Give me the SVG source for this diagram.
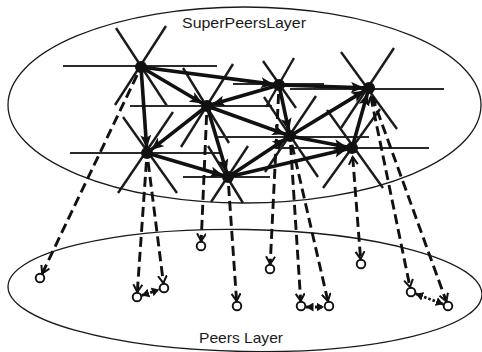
<svg xmlns="http://www.w3.org/2000/svg" width="482" height="352" viewBox="0 0 482 352">
<style>
.layer{fill:none;stroke:#1a1a1a;stroke-width:1.3}
.hz{stroke:#2a2a2a;stroke-width:2.2}
.sp{stroke:#1a1a1a;stroke-width:2.4}
.dot{fill:#111}
.edge{stroke:#111;stroke-width:3.6;fill:none;marker-end:url(#ah)}
.dash{stroke:#111;stroke-width:2.9;fill:none;stroke-dasharray:10 5;marker-end:url(#ch)}
.dots{stroke:#111;stroke-width:2.8;fill:none;stroke-dasharray:2.5 2;marker-end:url(#sm);marker-start:url(#sm)}
.peer{fill:#fff;stroke:#111;stroke-width:1.9}
.lbl{font-family:"Liberation Sans",Arial,sans-serif;font-size:15px;fill:#1a1a1a}
</style>
<defs>
<marker id="ah" markerUnits="userSpaceOnUse" markerWidth="15" markerHeight="11" refX="13" refY="5.5" orient="auto"><path d="M0,0 L13,5.5 L0,11 L3,5.5 z" fill="#111"/></marker>
<marker id="ch" markerUnits="userSpaceOnUse" markerWidth="11" markerHeight="11" refX="8" refY="5" orient="auto-start-reverse"><path d="M0.5,0.5 L8,5 L0.5,9.5" fill="none" stroke="#111" stroke-width="2"/></marker>
<marker id="sm" markerUnits="userSpaceOnUse" markerWidth="9" markerHeight="9" refX="7.5" refY="4.5" orient="auto-start-reverse"><path d="M0,0 L7.5,4.5 L0,9 z" fill="#111"/></marker>
</defs>
<rect width="482" height="352" fill="#fff"/>
<ellipse class="layer" cx="244.5" cy="105" rx="236.5" ry="98"/>
<ellipse class="layer" cx="245" cy="290.5" rx="237" ry="61" transform="rotate(1 245 290.5)"/>
<text class="lbl" x="182" y="28" textLength="124" lengthAdjust="spacingAndGlyphs">SuperPeersLayer</text>
<text class="lbl" x="199" y="343" textLength="84" lengthAdjust="spacingAndGlyphs">Peers Layer</text>

<g id="sp-A"><line class="hz" x1="63" y1="66" x2="217" y2="66"/><line class="sp" x1="116" y1="28" x2="167" y2="106"/><line class="sp" x1="166" y1="26" x2="115" y2="105"/><circle class="dot" cx="141" cy="67" r="6"/></g>
<g id="sp-B"><line class="hz" x1="130" y1="106" x2="272" y2="106"/><line class="sp" x1="183" y1="68" x2="229" y2="143"/><line class="sp" x1="233" y1="64" x2="181" y2="147"/><circle class="dot" cx="207" cy="106" r="6"/></g>
<g id="sp-C"><line class="hz" x1="233" y1="84" x2="324" y2="84"/><line class="sp" x1="263" y1="61" x2="296" y2="108"/><line class="sp" x1="294" y1="58" x2="266" y2="107"/><circle class="dot" cx="279" cy="85" r="6"/></g>
<g id="sp-D"><line class="hz" x1="290" y1="89" x2="444" y2="89"/><line class="sp" x1="341" y1="52" x2="397" y2="129"/><line class="sp" x1="394" y1="48" x2="341" y2="128"/><circle class="dot" cx="369" cy="88" r="6"/></g>
<g id="sp-E"><line class="hz" x1="70" y1="153" x2="220" y2="153"/><line class="sp" x1="123" y1="117" x2="177" y2="193"/><line class="sp" x1="173" y1="112" x2="118" y2="193"/><circle class="dot" cx="147" cy="153" r="6"/></g>
<g id="sp-F"><line class="hz" x1="218" y1="137" x2="369" y2="137"/><line class="sp" x1="264" y1="97" x2="318" y2="177"/><line class="sp" x1="316" y1="96" x2="265" y2="172"/><circle class="dot" cx="290" cy="136" r="6"/></g>
<g id="sp-G"><line class="hz" x1="183" y1="177" x2="270" y2="177"/><line class="sp" x1="208" y1="146" x2="243" y2="203"/><line class="sp" x1="248" y1="146" x2="211" y2="202"/><circle class="dot" cx="228" cy="177" r="6"/></g>
<g id="sp-H"><line class="hz" x1="276" y1="148" x2="429" y2="148"/><line class="sp" x1="327" y1="110" x2="383" y2="188"/><line class="sp" x1="380" y1="109" x2="323" y2="188"/><circle class="dot" cx="352" cy="148" r="6"/></g>

<g id="p1"><circle class="peer" cx="40" cy="278" r="4.3"/></g>
<g id="p2"><circle class="peer" cx="137" cy="297" r="4.3"/></g>
<g id="p3"><circle class="peer" cx="164" cy="288" r="4.3"/></g>
<g id="p4"><circle class="peer" cx="201" cy="246" r="4.3"/></g>
<g id="p5"><circle class="peer" cx="237" cy="306" r="4.3"/></g>
<g id="p6"><circle class="peer" cx="270" cy="269" r="4.3"/></g>
<g id="p7"><circle class="peer" cx="301" cy="306" r="4.3"/></g>
<g id="p8"><circle class="peer" cx="329" cy="306" r="4.3"/></g>
<g id="p9"><circle class="peer" cx="361" cy="264" r="4.3"/></g>
<g id="p10"><circle class="peer" cx="411" cy="292" r="4.3"/></g>
<g id="p11"><circle class="peer" cx="448" cy="306" r="4.3"/></g>

<g id="connectors">
<line class="edge" x1="141" y1="67" x2="202.7" y2="103.5"/>
<line class="edge" x1="141" y1="67" x2="274" y2="84.4"/>
<line class="edge" x1="279" y1="85" x2="364" y2="87.8"/>
<line class="edge" x1="141" y1="67" x2="146.7" y2="148"/>
<line class="edge" x1="279" y1="85" x2="211.8" y2="104.6"/>
<line class="edge" x1="207" y1="106" x2="150.9" y2="149.9"/>
<line class="edge" x1="207" y1="106" x2="285.3" y2="134.3"/>
<line class="edge" x1="207" y1="106" x2="226.6" y2="172.2"/>
<line class="edge" x1="147" y1="153" x2="223.2" y2="175.6"/>
<line class="edge" x1="279" y1="85" x2="288.9" y2="131.1"/>
<line class="edge" x1="228" y1="177" x2="285.8" y2="138.8"/>
<line class="edge" x1="228" y1="177" x2="347.1" y2="149.1"/>
<line class="edge" x1="290" y1="136" x2="347.1" y2="147"/>
<line class="edge" x1="290" y1="136" x2="364.7" y2="90.6"/>
<line class="edge" x1="352" y1="148" x2="367.6" y2="92.8"/>

<line class="dash" x1="137.1" y1="75.1" x2="42.2" y2="273.5"/>
<line class="dash" x1="146.4" y1="162" x2="137.3" y2="292"/>
<line class="dash" x1="148.1" y1="162" x2="163.4" y2="283"/>
<line class="dash" x1="206.6" y1="115" x2="201.2" y2="241"/>
<line class="dash" x1="228.6" y1="186" x2="236.6" y2="301"/>
<line class="dash" x1="278.6" y1="94" x2="270.2" y2="264"/>
<line class="dash" x1="290.6" y1="145" x2="300.7" y2="301"/>
<line class="dash" x1="292" y1="144.8" x2="327.9" y2="301.1"/>
<line class="dash" x1="352.7" y1="157" x2="360.6" y2="259" style="marker-start:url(#ch)"/>
<line class="dash" x1="370.8" y1="96.8" x2="410" y2="287.1" style="marker-start:url(#ch)"/>
<line class="dash" x1="372.1" y1="96.5" x2="446.3" y2="301.3"/>

<line class="dots" x1="141.7" y1="295.4" x2="159.3" y2="289.6"/>
<line class="dots" x1="306" y1="307" x2="324" y2="307"/>
<line class="dots" x1="415.7" y1="293.8" x2="443.3" y2="304.2"/>
</g>
</svg>
